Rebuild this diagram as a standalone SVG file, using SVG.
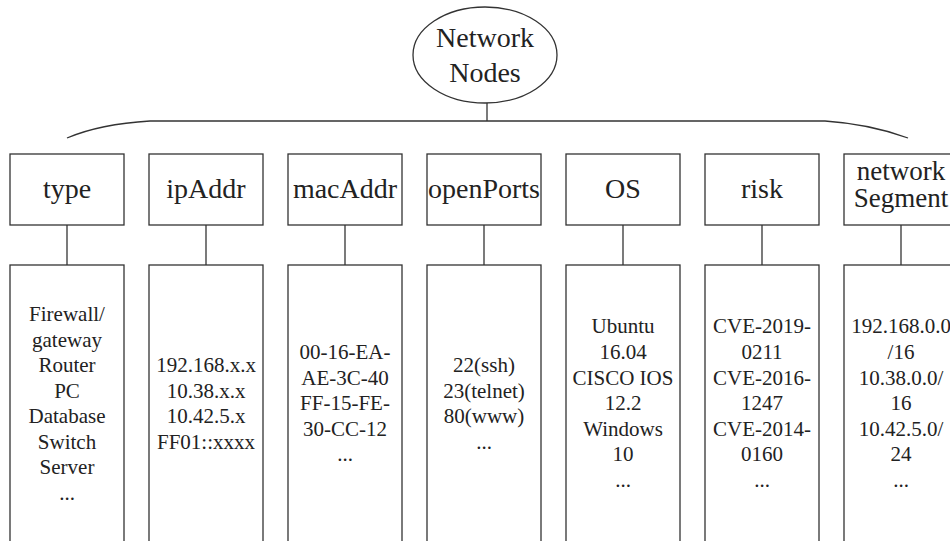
<svg xmlns="http://www.w3.org/2000/svg" width="950" height="541" viewBox="0 0 950 541">
  <style>
    .shape { fill: #ffffff; stroke: #333333; stroke-width: 1.3; }
    .wire { fill: none; stroke: #333333; stroke-width: 1.3; }
    .lbl { font-family: 'Liberation Serif', 'Times New Roman', 'DejaVu Serif', serif; fill: #222222; text-anchor: middle; }
    .hd { font-size: 28px; }
    .hd2 { font-size: 27px; }
    .bd { font-size: 21px; }
  </style>
  <rect width="950" height="541" fill="#ffffff"/>

  <!-- connectors -->
  <g id="connectors">
    <line class="wire" x1="487" y1="103" x2="487" y2="121"/>
    <path class="wire" d="M67 138 Q100 124 150 121 L825 121 Q870 124 908 138"/>
    <line class="wire" x1="67" y1="225" x2="67" y2="265"/>
    <line class="wire" x1="206" y1="225" x2="206" y2="265"/>
    <line class="wire" x1="345" y1="225" x2="345" y2="265"/>
    <line class="wire" x1="484" y1="225" x2="484" y2="265"/>
    <line class="wire" x1="623" y1="225" x2="623" y2="265"/>
    <line class="wire" x1="762" y1="225" x2="762" y2="265"/>
    <line class="wire" x1="901" y1="225" x2="901" y2="265"/>
  </g>

  <g class="lbl" font-family="Liberation Serif, Times New Roman, serif">
  <!-- root -->
  <g id="root">
    <ellipse class="shape" cx="485" cy="55" rx="72" ry="48"/>
    <text class="hd" x="485" y="47">Network</text>
    <text class="hd" x="485" y="82">Nodes</text>
  </g>

  <!-- attribute headers -->
  <g id="h-type"><rect class="shape" x="10" y="154" width="114" height="71"/><text class="hd" x="67" y="198">type</text></g>
  <g id="h-ipAddr"><rect class="shape" x="149" y="154" width="114" height="71"/><text class="hd" x="206" y="198">ipAddr</text></g>
  <g id="h-macAddr"><rect class="shape" x="288" y="154" width="114" height="71"/><text class="hd" x="345" y="198">macAddr</text></g>
  <g id="h-openPorts"><rect class="shape" x="427" y="154" width="114" height="71"/><text class="hd" x="484" y="198">openPorts</text></g>
  <g id="h-OS"><rect class="shape" x="566" y="154" width="114" height="71"/><text class="hd" x="623" y="198">OS</text></g>
  <g id="h-risk"><rect class="shape" x="705" y="154" width="114" height="71"/><text class="hd" x="762" y="198">risk</text></g>
  <g id="h-networkSegment"><rect class="shape" x="844" y="154" width="114" height="71"/><text class="hd2" x="901" y="180">network</text><text class="hd2" x="901" y="207">Segment</text></g>

  <!-- value lists -->
  <g id="v-type">
    <rect class="shape" x="10" y="265" width="114" height="290"/>
    <text class="bd" x="67" y="321">Firewall/</text>
    <text class="bd" x="67" y="347">gateway</text>
    <text class="bd" x="67" y="372">Router</text>
    <text class="bd" x="67" y="398">PC</text>
    <text class="bd" x="67" y="423">Database</text>
    <text class="bd" x="67" y="449">Switch</text>
    <text class="bd" x="67" y="474">Server</text>
    <text class="bd" x="67" y="500">...</text>
  </g>
  <g id="v-ipAddr">
    <rect class="shape" x="149" y="265" width="114" height="290"/>
    <text class="bd" x="206" y="372">192.168.x.x</text>
    <text class="bd" x="206" y="398">10.38.x.x</text>
    <text class="bd" x="206" y="423">10.42.5.x</text>
    <text class="bd" x="206" y="449">FF01::xxxx</text>
  </g>
  <g id="v-macAddr">
    <rect class="shape" x="288" y="265" width="114" height="290"/>
    <text class="bd" x="345" y="359">00-16-EA-</text>
    <text class="bd" x="345" y="385">AE-3C-40</text>
    <text class="bd" x="345" y="410">FF-15-FE-</text>
    <text class="bd" x="345" y="436">30-CC-12</text>
    <text class="bd" x="345" y="461">...</text>
  </g>
  <g id="v-openPorts">
    <rect class="shape" x="427" y="265" width="114" height="290"/>
    <text class="bd" x="484" y="372">22(ssh)</text>
    <text class="bd" x="484" y="398">23(telnet)</text>
    <text class="bd" x="484" y="423">80(www)</text>
    <text class="bd" x="484" y="449">...</text>
  </g>
  <g id="v-OS">
    <rect class="shape" x="566" y="265" width="114" height="290"/>
    <text class="bd" x="623" y="333">Ubuntu</text>
    <text class="bd" x="623" y="359">16.04</text>
    <text class="bd" x="623" y="385">CISCO IOS</text>
    <text class="bd" x="623" y="410">12.2</text>
    <text class="bd" x="623" y="436">Windows</text>
    <text class="bd" x="623" y="461">10</text>
    <text class="bd" x="623" y="487">...</text>
  </g>
  <g id="v-risk">
    <rect class="shape" x="705" y="265" width="114" height="290"/>
    <text class="bd" x="762" y="333">CVE-2019-</text>
    <text class="bd" x="762" y="359">0211</text>
    <text class="bd" x="762" y="385">CVE-2016-</text>
    <text class="bd" x="762" y="410">1247</text>
    <text class="bd" x="762" y="436">CVE-2014-</text>
    <text class="bd" x="762" y="461">0160</text>
    <text class="bd" x="762" y="487">...</text>
  </g>
  <g id="v-networkSegment">
    <rect class="shape" x="844" y="265" width="114" height="290"/>
    <text class="bd" x="901" y="333">192.168.0.0</text>
    <text class="bd" x="901" y="359">/16</text>
    <text class="bd" x="901" y="385">10.38.0.0/</text>
    <text class="bd" x="901" y="410">16</text>
    <text class="bd" x="901" y="436">10.42.5.0/</text>
    <text class="bd" x="901" y="461">24</text>
    <text class="bd" x="901" y="487">...</text>
  </g>
  </g>
</svg>
